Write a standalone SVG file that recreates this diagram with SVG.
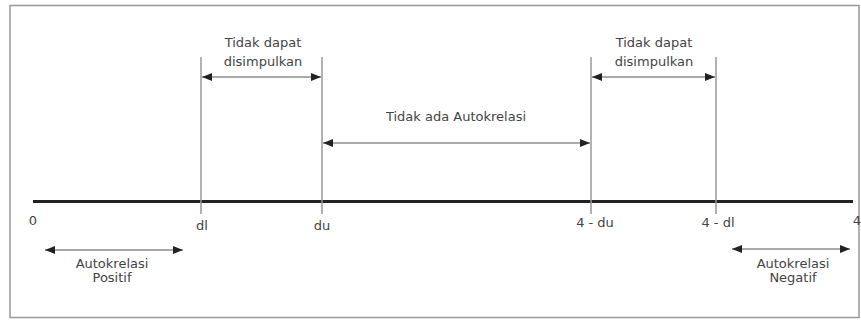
<svg xmlns="http://www.w3.org/2000/svg" width="861" height="322" viewBox="0 0 861 322">
<style>
.t{font-family:"DejaVu Sans",Verdana,sans-serif;font-size:13px;fill:#444;text-anchor:middle}
.v{stroke:#999;stroke-width:1.5}
.a{stroke:#555;stroke-width:1.2;fill:none;marker-start:url(#ah);marker-end:url(#ah)}
</style>
<defs>
<marker id="ah" viewBox="0 0 10 8" refX="10" refY="4" markerWidth="10" markerHeight="8" markerUnits="userSpaceOnUse" orient="auto-start-reverse">
<path d="M0,0 L10,4 L0,8 Z" fill="#222"/>
</marker>
</defs>
<rect x="0" y="0" width="861" height="322" fill="#fff"/>
<rect x="10" y="5.5" width="849" height="312" fill="none" stroke="#999" stroke-width="1.5"/>
<g id="axis">
<line x1="33" y1="201.5" x2="853" y2="201.5" stroke="#222" stroke-width="3"/>
</g>
<g id="ticks">
<line class="v" x1="201" y1="57" x2="201" y2="214"/>
<line class="v" x1="322" y1="57" x2="322" y2="214"/>
<line class="v" x1="591" y1="57" x2="591" y2="214"/>
<line class="v" x1="716" y1="57" x2="716" y2="214"/>
</g>
<g id="connectors">
<line class="a" x1="202" y1="77" x2="321" y2="77"/>
<line class="a" x1="323" y1="143" x2="590" y2="143"/>
<line class="a" x1="592" y1="77" x2="715" y2="77"/>
<line class="a" x1="45" y1="250" x2="183" y2="250"/>
<line class="a" x1="732" y1="249" x2="850" y2="249"/>
</g>
<g id="label-0"><text class="t" x="33" y="225">0</text></g>
<g id="label-dl"><text class="t" x="202" y="230">dl</text></g>
<g id="label-du"><text class="t" x="322" y="230">du</text></g>
<g id="label-4du"><text class="t" x="595" y="227">4 - du</text></g>
<g id="label-4dl"><text class="t" x="718" y="227">4 - dl</text></g>
<g id="label-4"><text class="t" x="857" y="225">4</text></g>
<g id="node-tdd1"><text class="t" x="263" y="47">Tidak dapat</text><text class="t" x="263" y="66">disimpulkan</text></g>
<g id="node-tdd2"><text class="t" x="654" y="47">Tidak dapat</text><text class="t" x="654" y="66">disimpulkan</text></g>
<g id="node-tidak-ada"><text class="t" x="456" y="121">Tidak ada Autokrelasi</text></g>
<g id="node-positif"><text class="t" x="112" y="268">Autokrelasi</text><text class="t" x="112" y="282">Positif</text></g>
<g id="node-negatif"><text class="t" x="793" y="268">Autokrelasi</text><text class="t" x="793" y="282">Negatif</text></g>
</svg>
